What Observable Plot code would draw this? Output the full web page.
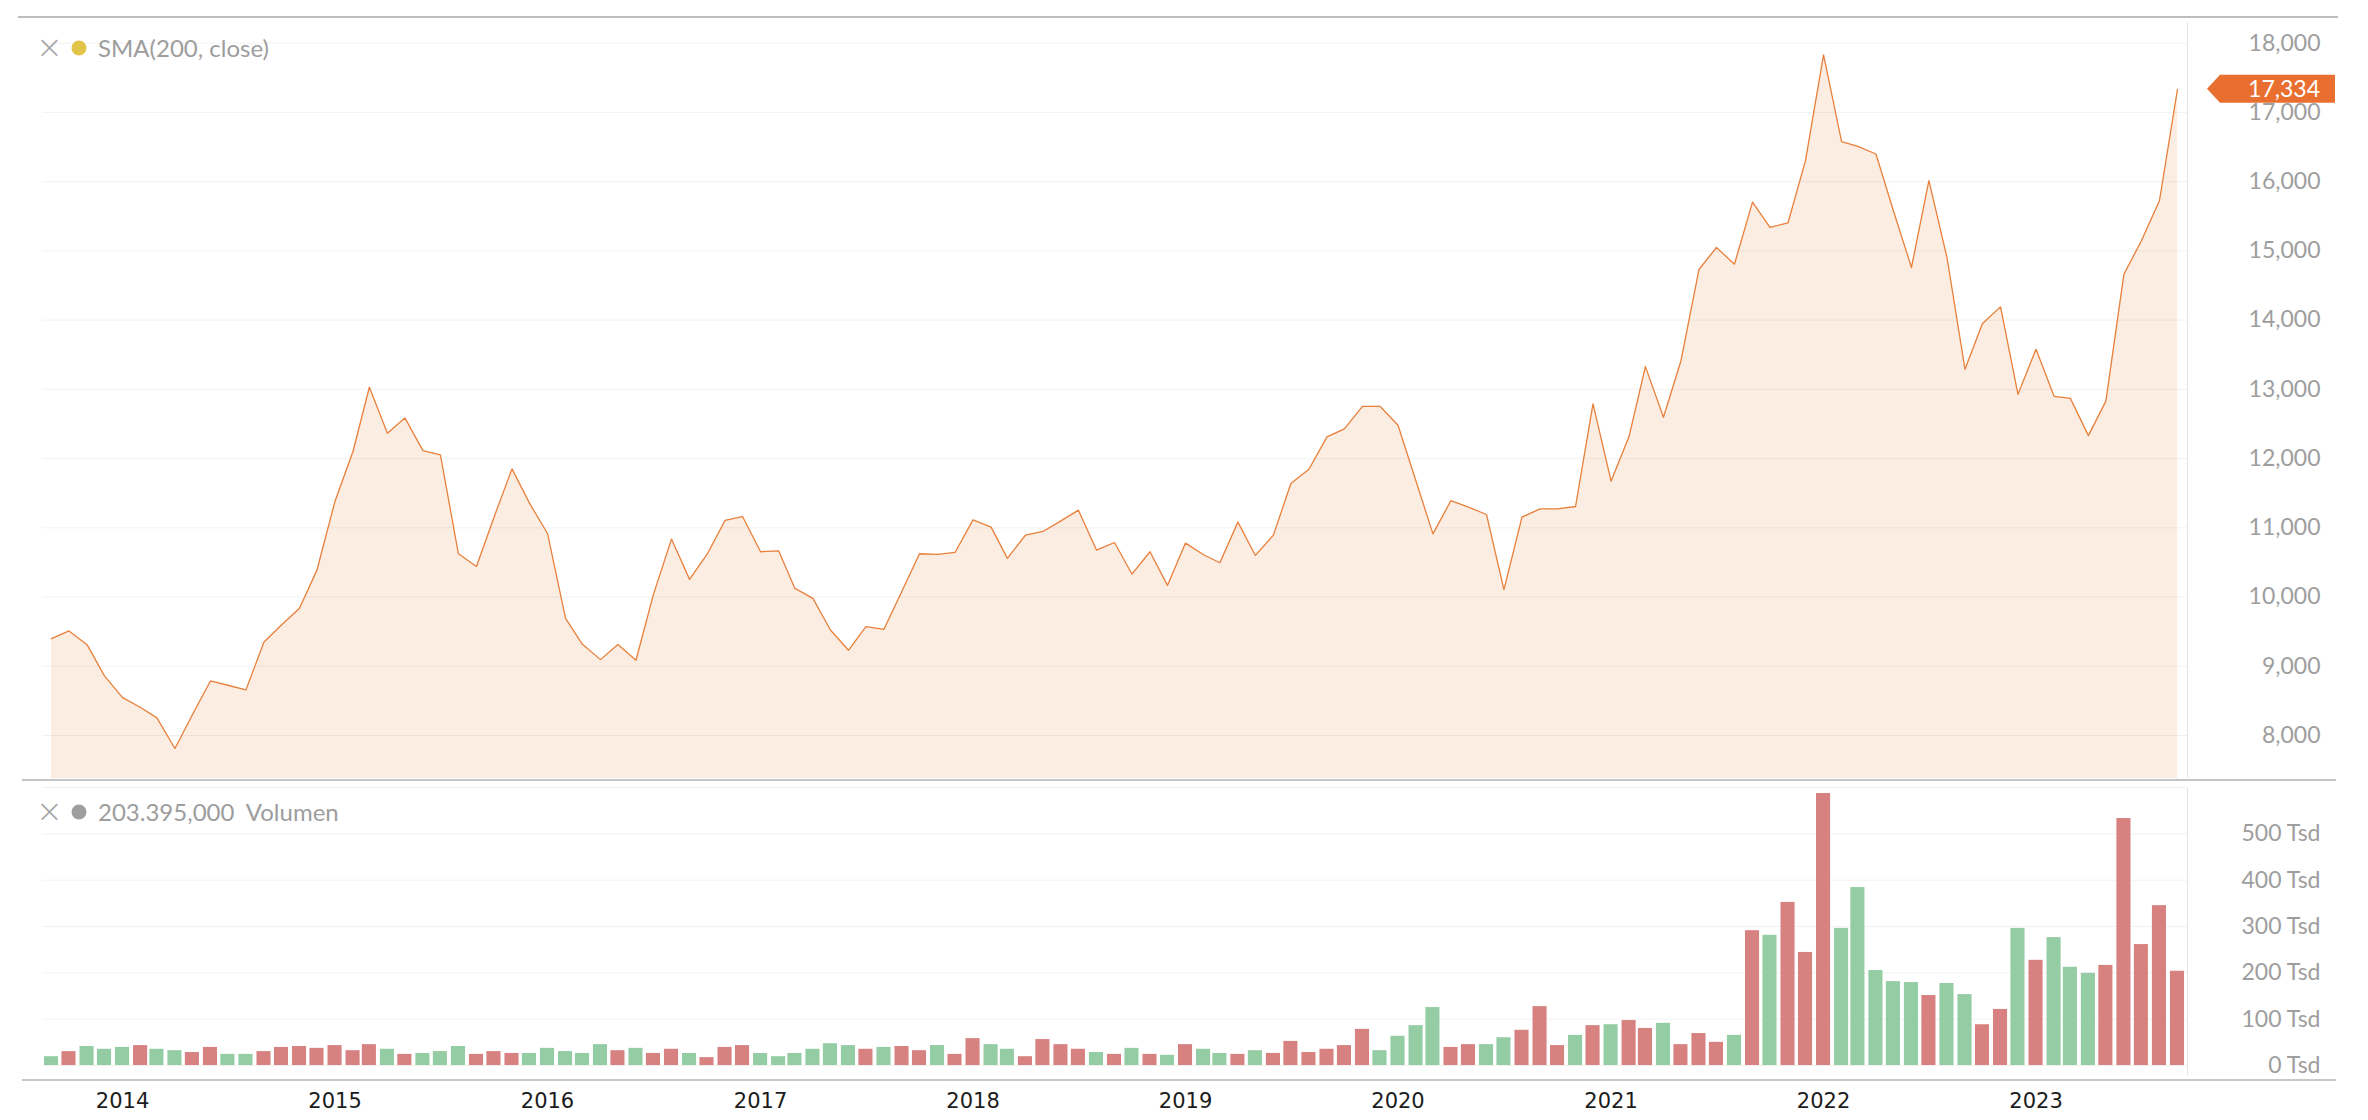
<!DOCTYPE html>
<html>
<head>
<meta charset="utf-8">
<script src="https://cdn.jsdelivr.net/npm/d3@7"></script>
<script src="https://cdn.jsdelivr.net/npm/@observablehq/plot@0.6"></script>
<style>
  html, body { margin: 0; padding: 0; background: #fff; overflow: hidden; }
  #root { position: relative; width: 2368px; height: 1120px; overflow: hidden; font-family: Lato, "Open Sans", sans-serif; background: #fff; }
  .panel { position: absolute; left: 0; }
  .hline { position: absolute; height: 0; }
  .legend { position: absolute; color: #9d9d9d; font-size: 24px; white-space: pre; line-height: 1; }
  .x { position: absolute; color: #a6a6a6; font-size: 32px; font-weight: 300; line-height: 1; transform: translate(-50%, -54%); font-family: "DejaVu Sans", sans-serif; }
  .dot { position: absolute; width: 15px; height: 15px; border-radius: 50%; transform: translate(-50%, -50%); }
</style>
</head>
<body>
<div id="root"></div>
<script>
// ---- data (monthly, first month Sep 2013, last month Sep 2023) ----
const firstMonth = "2013-09-01";
const lastMonth = "2023-09-01";

const smaValues = [
  9400, 9510, 9312, 8861, 8548, 8404, 8255, 7812, 8300, 8788,
  8726, 8659, 9351, 9596, 9837, 10389, 11385, 12106, 13030, 12365,
  12587, 12115, 12053, 10625, 10442, 11150, 11851, 11356, 10918, 9692,
  9317, 9096, 9313, 9087, 10038, 10837, 10255, 10615, 11106, 11163,
  10654, 10668, 10125, 9981, 9524, 9231, 9572, 9534, 10087, 10625,
  10615, 10644, 11115, 11010, 10558, 10894, 10947, 11100, 11255, 10678,
  10788, 10332, 10654, 10168, 10779, 10611, 10495, 11082, 10601, 10894,
  11639, 11846, 12313, 12428, 12755, 12755, 12481, 11673, 10913, 11394,
  11298, 11192, 10106, 11154, 11274, 11274, 11308, 12790, 11673, 12322,
  13328, 12596, 13410, 14731, 15049, 14808, 15705, 15338, 15406, 16303,
  17831, 16578, 16510, 16399, 15580, 14760, 16014, 14905, 13289, 13950,
  14191, 12928, 13579, 12899, 12870, 12332, 12830, 14663, 15146, 15724,
  17334
];

// volume in thousands ("Tsd")
const volumeTsd = [
  19, 30, 41, 35, 39, 43, 35, 32, 28, 39,
  24, 24, 30, 39, 41, 37, 43, 32, 45, 35,
  24, 26, 30, 41, 24, 30, 26, 26, 37, 30,
  26, 45, 32, 37, 26, 35, 26, 17, 39, 43,
  26, 19, 26, 35, 47, 43, 35, 39, 41, 32,
  43, 24, 58, 45, 35, 19, 56, 45, 35, 28,
  24, 37, 24, 22, 45, 35, 26, 24, 32, 26,
  52, 28, 35, 43, 78, 32, 63, 86, 125, 39,
  45, 45, 60, 76, 127, 43, 65, 86, 88, 97,
  80, 91, 45, 69, 50, 65, 291, 281, 352, 244,
  587, 296, 384, 205, 181, 179, 151, 177, 153, 88,
  121, 296, 227, 276, 212, 199, 216, 533, 261, 345,
  203.395
];

// "u" = up month (green), "d" = down month (red)
const volumeDirection = [
  "u","d","u","u","u","d","u","u","d","d",
  "u","u","d","d","d","d","d","d","d","u",
  "d","u","u","u","d","d","d","u","u","u",
  "u","u","d","u","d","d","u","d","d","d",
  "u","u","u","u","u","u","d","u","d","d",
  "u","d","d","u","u","d","d","d","d","u",
  "d","u","d","u","d","u","u","d","u","d",
  "d","d","d","d","d","u","u","u","u","d",
  "d","u","u","d","d","d","u","d","u","d",
  "d","u","d","d","d","u","d","u","d","d",
  "d","u","u","u","u","u","d","u","u","d",
  "d","u","d","u","u","u","d","d","d","d",
  "d"
];

const yTicksPrice = [8000, 9000, 10000, 11000, 12000, 13000, 14000, 15000, 16000, 17000, 18000];
const yTicksVolume = [0, 100, 200, 300, 400, 500];
const gridVolume = [0, 100, 200, 300, 400, 500, 600];
const yearTicks = ["2014","2015","2016","2017","2018","2019","2020","2021","2022","2023"];

const smaLabel = "SMA(200, close)";
const volumeLabel = "203.395,000  Volumen";
const lastLabel = "17,334";

// ---- styling ----
const W = 2368;
const lineColor = "#e8803c";
const areaColor = "#fcede3";
const upColor = "#94cca4";
const downColor = "#d78281";
const axisGray = "#9e9e9e";
const font = "Lato, 'Open Sans', sans-serif";

const months = d3.utcMonth.range(new Date(firstMonth), d3.utcMonth.offset(new Date(lastMonth), 1));
const rows = months.map((date, i) => ({
  date,
  sma: smaValues[i],
  vol: volumeTsd[i],
  color: volumeDirection[i] === "u" ? upColor : downColor
}));

const dayMs = 864e5;
const xDomain = [new Date(+months[0] - 15.5 * dayMs), new Date(+months[months.length - 1] + 17.2 * dayMs)];
const priceDomain = [7379, 18371];
const marginLeft = 42, marginRight = 181;

const root = document.getElementById("root");

// ---------- top panel ----------
const topPlot = Plot.plot({
  width: W, height: 779,
  marginLeft, marginRight, marginTop: 17, marginBottom: 1,
  x: {type: "utc", domain: xDomain, axis: null},
  y: {domain: priceDomain, axis: null},
  marks: [
    Plot.areaY(rows, {x: "date", y1: priceDomain[0], y2: "sma", fill: areaColor}),
    Plot.ruleY(yTicksPrice, {stroke: "#000", strokeOpacity: 0.055}),
    Plot.lineY(rows, {x: "date", y: "sma", stroke: lineColor, strokeWidth: 1.3}),
    Plot.ruleX([xDomain[1]], {y1: 18300, y2: priceDomain[0], stroke: "#e4e4e4"}),
    Plot.axisY(yTicksPrice, {
      anchor: "right", tickSize: 0, tickPadding: 0, textAnchor: "end", dx: 133,
      tickFormat: d3.format(","), fontSize: 23, fontFamily: font, fill: axisGray, label: null
    })
  ]
});
topPlot.classList.add("panel");
topPlot.style.top = "0px";
root.appendChild(topPlot);

// last value badge
{
  const ys = topPlot.scale("y"), xs = topPlot.scale("x");
  const yv = ys.apply(smaValues[smaValues.length - 1]);
  const tip = xs.apply(xDomain[1]) + 20;
  const right = 2335, h = 14;
  const svg = d3.select(topPlot);
  svg.append("path")
    .attr("d", `M${tip},${yv}L${tip + 13},${yv - h}L${right},${yv - h}L${right},${yv + h}L${tip + 13},${yv + h}Z`)
    .attr("fill", "#e96f31");
  svg.append("text")
    .attr("x", 2320).attr("y", yv).attr("dy", "0.35em")
    .attr("text-anchor", "end")
    .attr("fill", "#fff")
    .attr("font-size", 23)
    .attr("font-family", font)
    .text(lastLabel);
}

// ---------- bottom panel ----------
const bottomPlot = Plot.plot({
  width: W, height: 340,
  marginLeft, marginRight, marginTop: 7, marginBottom: 55,
  x: {type: "utc", domain: xDomain},
  y: {domain: [0, 600], axis: null},
  color: {type: "identity"},
  marks: [
    Plot.ruleY(gridVolume, {stroke: "#000", strokeOpacity: 0.055}),
    Plot.rectY(rows, {
      x1: d => new Date(+d.date - 12.1 * dayMs),
      x2: d => new Date(+d.date + 12.1 * dayMs),
      y1: 0, y2: "vol", fill: "color"
    }),
    Plot.ruleX([xDomain[1]], {y1: 598, y2: -21.6, stroke: "#e4e4e4"}),
    Plot.axisY(yTicksVolume, {
      anchor: "right", tickSize: 0, tickPadding: 0, textAnchor: "end", dx: 133,
      tickFormat: d => `${d} Tsd`, fontSize: 23, fontFamily: font, fill: axisGray, label: null
    }),
    Plot.axisX(yearTicks.map(y => new Date(`${y}-01-01`)), {
      anchor: "bottom", tickSize: 0, tickPadding: 28, tickFormat: "%Y",
      fontSize: 21, fontFamily: "'DejaVu Sans', sans-serif", fill: "#1c1c1c", label: null
    })
  ]
});
bottomPlot.classList.add("panel");
bottomPlot.style.top = "780px";
root.appendChild(bottomPlot);

// ---------- frame lines ----------
function hline(y, x1, x2, w, color) {
  const d = document.createElement("div");
  d.className = "hline";
  d.style.top = (y - w / 2) + "px";
  d.style.left = x1 + "px";
  d.style.width = (x2 - x1) + "px";
  d.style.borderTop = `${w}px solid ${color}`;
  root.appendChild(d);
}
hline(17, 18, 2338, 2, "#bdbdbd");
hline(780, 22, 2336, 2, "#c4c4c4");
hline(1080, 22, 2336, 2, "#c8c8c8");

// ---------- panel legends ----------
function legend(y, dotColor, label) {
  const x = document.createElement("div");
  x.className = "x"; x.textContent = "×";
  x.style.left = "49.5px"; x.style.top = y + "px";
  root.appendChild(x);
  const dot = document.createElement("div");
  dot.className = "dot"; dot.style.background = dotColor;
  dot.style.left = "78.5px"; dot.style.top = y + "px";
  root.appendChild(dot);
  const t = document.createElement("div");
  t.className = "legend"; t.textContent = label;
  t.style.left = "98px"; t.style.top = y + "px";
  t.style.transform = "translateY(-50%)";
  root.appendChild(t);
}
legend(48, "#e2c449", smaLabel);
legend(812, "#9e9e9e", volumeLabel);
</script>
</body>
</html>
